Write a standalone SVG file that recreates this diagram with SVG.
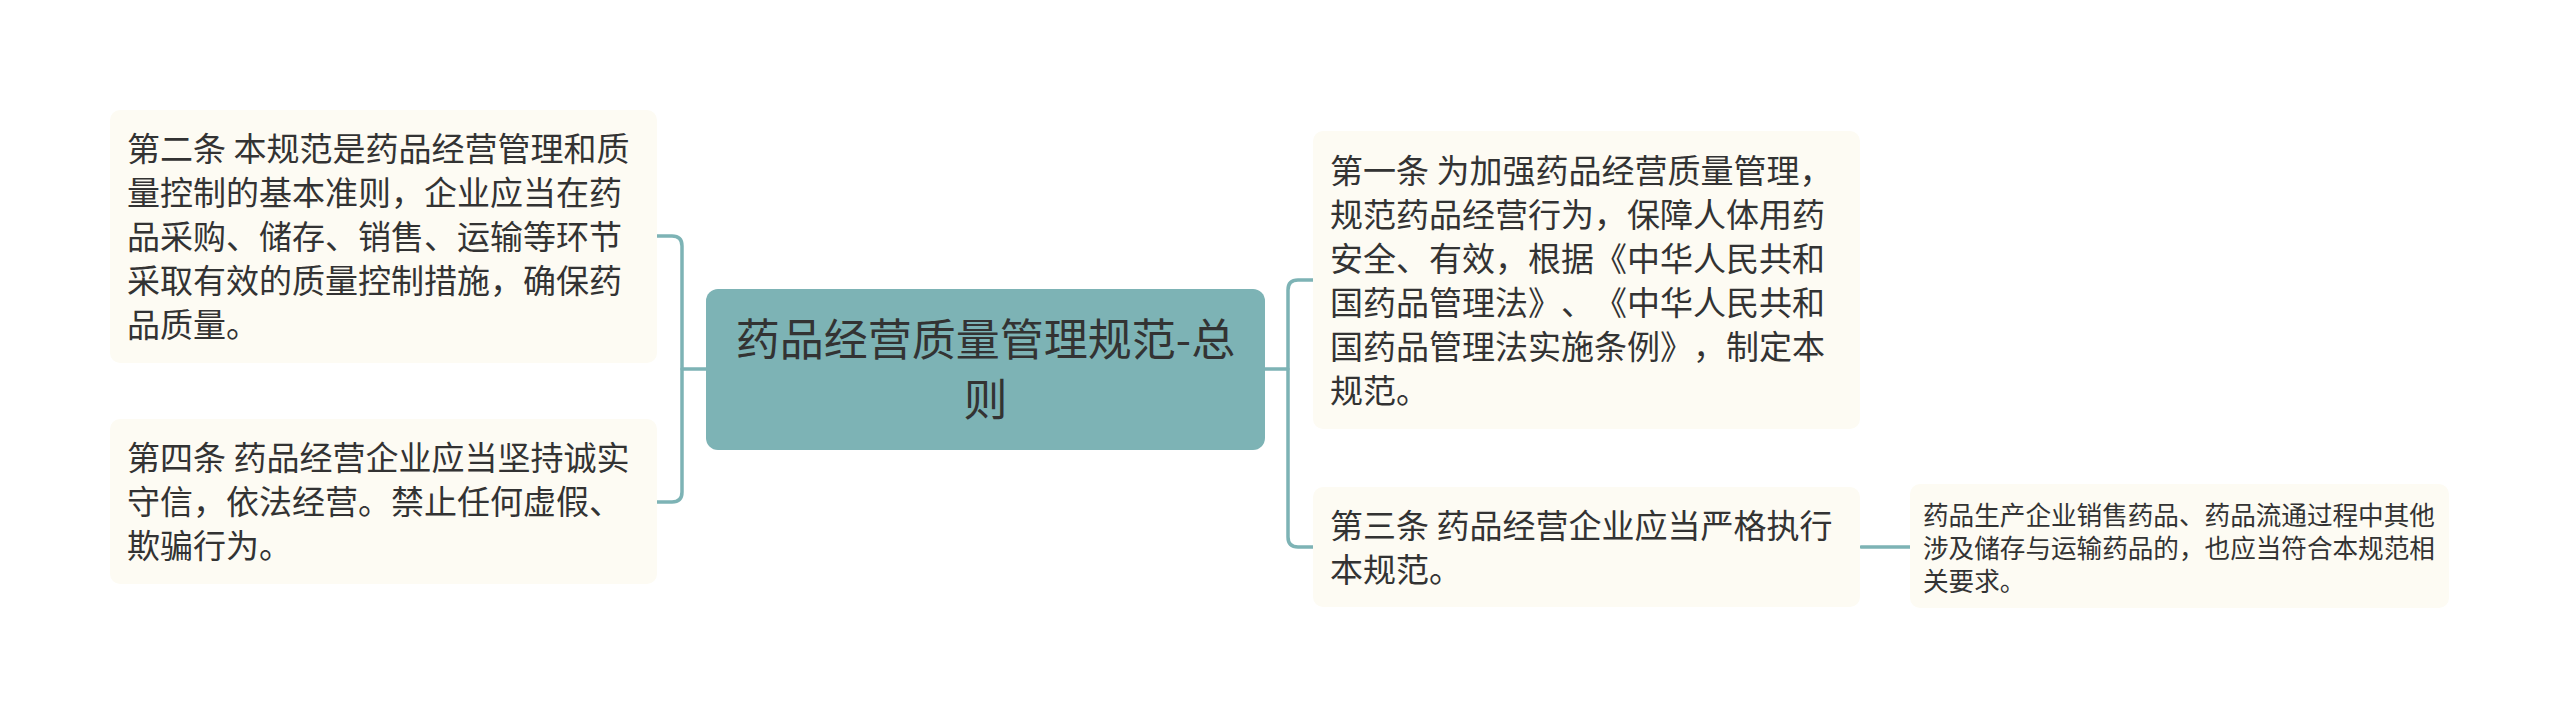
<svg xmlns="http://www.w3.org/2000/svg" width="2560" height="720" viewBox="0 0 2560 720">
<style>
.bg{fill:#ffffff}
.child{fill:#fdfbf3}
.root{fill:#7db3b5}
.t{font-family:"Noto Sans CJK SC","Noto Sans",sans-serif;fill:#333333;text-spacing-trim:space-all;font-feature-settings:"chws" 0,"halt" 0,"palt" 0}
.t33{font-size:33px}
.t26{font-size:25.6px}
.t44{font-size:44px}
.conn{fill:none;stroke:#7db3b5;stroke-width:3.5;stroke-linecap:round;stroke-linejoin:round}
</style>
<rect class="bg" x="0" y="0" width="2560" height="720"/>
<g id="connectors">
<path class="conn" d="M706,369 H682"/>
<path class="conn" d="M657,236 H672 Q682,236 682,246 V492 Q682,502 672,502 H657"/>
<path class="conn" d="M1265,369 H1288"/>
<path class="conn" d="M1313,280 H1298 Q1288,280 1288,290 V537 Q1288,547 1298,547 H1313"/>
<path class="conn" d="M1861,547 H1910"/>
</g>
<g id="node-root">
<rect class="root" x="706" y="289" width="559" height="161" rx="12"/>
<text class="t t44" text-anchor="middle"><tspan x="985.5" y="355.7">药品经营质量管理规范-总</tspan><tspan x="985.5" y="415.7">则</tspan></text>
</g>
<g id="node-art2">
<rect class="child" x="110" y="110" width="547" height="253" rx="10"/>
<text class="t t33"><tspan x="127" y="160.5">第二条 本规范是药品经营管理和质</tspan><tspan x="127" y="204.5">量控制的基本准则，企业应当在药</tspan><tspan x="127" y="248.5">品采购、储存、销售、运输等环节</tspan><tspan x="127" y="292.5">采取有效的质量控制措施，确保药</tspan><tspan x="127" y="336.5">品质量。</tspan></text>
</g>
<g id="node-art4">
<rect class="child" x="110" y="419" width="547" height="165" rx="10"/>
<text class="t t33"><tspan x="127" y="470">第四条 药品经营企业应当坚持诚实</tspan><tspan x="127" y="514">守信，依法经营。禁止任何虚假、</tspan><tspan x="127" y="558">欺骗行为。</tspan></text>
</g>
<g id="node-art1">
<rect class="child" x="1313" y="131" width="547" height="298" rx="10"/>
<text class="t t33"><tspan x="1330" y="182.5">第一条 为加强药品经营质量管理，</tspan><tspan x="1330" y="226.5">规范药品经营行为，保障人体用药</tspan><tspan x="1330" y="270.5">安全、有效，根据《中华人民共和</tspan><tspan x="1330" y="314.5">国药品管理法》、《中华人民共和</tspan><tspan x="1330" y="358.5">国药品管理法实施条例》，制定本</tspan><tspan x="1330" y="402.5">规范。</tspan></text>
</g>
<g id="node-art3">
<rect class="child" x="1313" y="487" width="547" height="120" rx="10"/>
<text class="t t33"><tspan x="1330" y="538">第三条 药品经营企业应当严格执行</tspan><tspan x="1330" y="582">本规范。</tspan></text>
</g>
<g id="node-art3-note">
<rect class="child" x="1910" y="484" width="539" height="124" rx="10"/>
<text class="t t26"><tspan x="1923" y="524.7">药品生产企业销售药品、药品流通过程中其他</tspan><tspan x="1923" y="557.7">涉及储存与运输药品的，也应当符合本规范相</tspan><tspan x="1923" y="590.7">关要求。</tspan></text>
</g>
</svg>
